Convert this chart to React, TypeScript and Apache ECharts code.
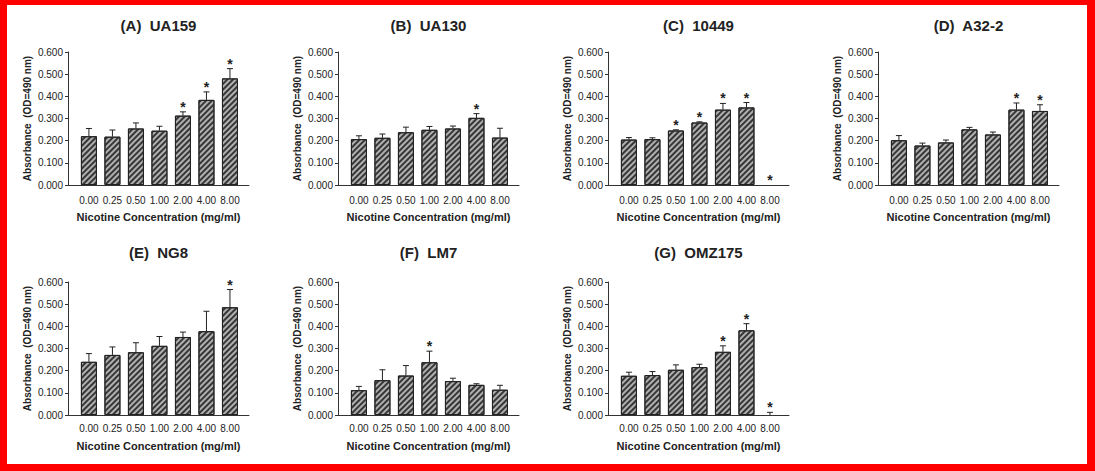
import React, { useEffect, useRef } from "react";
import * as echarts from "echarts";

// ---------- data ----------
const categories = ["0.00", "0.25", "0.50", "1.00", "2.00", "4.00", "8.00"];
const panelTitles = ["(A)  UA159", "(B)  UA130", "(C)  10449", "(D)  A32-2", "(E)  NG8", "(F)  LM7", "(G)  OMZ175"];
const yAxisTitle = "Absorbance  (OD=490 nm)";
const xAxisTitle = "Nicotine Concentration (mg/ml)";

const meansA = [0.220, 0.218, 0.255, 0.245, 0.313, 0.384, 0.481];
const errsA = [0.035, 0.030, 0.025, 0.020, 0.017, 0.036, 0.044];
const starsA = [0, 0, 0, 0, 1, 1, 1];

const meansB = [0.207, 0.213, 0.238, 0.249, 0.255, 0.303, 0.214];
const errsB = [0.015, 0.017, 0.023, 0.015, 0.011, 0.019, 0.042];
const starsB = [0, 0, 0, 0, 0, 1, 0];

const meansC = [0.205, 0.207, 0.246, 0.282, 0.340, 0.350, 0];
const errsC = [0.009, 0.006, 0.003, 0.003, 0.028, 0.022, 0];
const starsC = [0, 0, 1, 1, 1, 1, 1];

const meansD = [0.202, 0.178, 0.192, 0.251, 0.228, 0.340, 0.334];
const errsD = [0.021, 0.011, 0.011, 0.009, 0.011, 0.030, 0.028];
const starsD = [0, 0, 0, 0, 0, 1, 1];

const meansE = [0.240, 0.271, 0.283, 0.312, 0.352, 0.378, 0.486];
const errsE = [0.037, 0.036, 0.043, 0.042, 0.022, 0.090, 0.080];
const starsE = [0, 0, 0, 0, 0, 0, 1];

const meansF = [0.112, 0.157, 0.178, 0.238, 0.153, 0.136, 0.114];
const errsF = [0.017, 0.047, 0.045, 0.050, 0.013, 0.005, 0.020];
const starsF = [0, 0, 0, 1, 0, 0, 0];

const meansG = [0.177, 0.180, 0.204, 0.216, 0.285, 0.382, 0];
const errsG = [0.016, 0.016, 0.022, 0.013, 0.027, 0.030, 0.012];
const starsG = [0, 0, 0, 0, 1, 1, 1];

const panelMeans = [meansA, meansB, meansC, meansD, meansE, meansF, meansG];
const panelErrs = [errsA, errsB, errsC, errsD, errsE, errsF, errsG];
const panelStars = [starsA, starsB, starsC, starsD, starsE, starsF, starsG];

// ---------- layout ----------
const colLefts = [68, 338, 608, 878];
const rowTops = [52, 282];
const plotW = 181;
const plotH = 133;
const TXT = "#222";
const LABEL_FONT = "'Liberation Sans Narrow', 'Arial Narrow', 'Liberation Sans', Arial, sans-serif";
const BOLD_FONT = "'Liberation Sans', Arial, sans-serif";

export default function App() {
  const ref = useRef<HTMLDivElement>(null);
  useEffect(() => {
    if (!ref.current) return;
    const chart = echarts.init(ref.current, undefined, { renderer: "svg" });
    const grids: any[] = [];
    const xAxes: any[] = [];
    const yAxes: any[] = [];
    const series: any[] = [];
    const graphics: any[] = [];
    panelTitles.forEach((title, p) => {
      const row = p < 4 ? 0 : 1;
      const col = p < 4 ? p : p - 4;
      const left = colLefts[col];
      const top = rowTops[row];
      grids.push({ left, top, width: plotW, height: plotH, containLabel: false });
      xAxes.push({
        type: "value",
        gridIndex: p,
        min: -0.89,
        max: 6.81,
        splitLine: { show: false },
        axisTick: { show: false },
        axisLine: { show: true, onZero: false, lineStyle: { color: "#333", width: 1 } },
        axisLabel: {
          customValues: [0, 1, 2, 3, 4, 5, 6],
          formatter: (v: number) => categories[Math.round(v)] ?? "",
          color: TXT,
          fontSize: 10,
          fontFamily: LABEL_FONT,
          margin: row === 0 ? 10 : 8,
        },
        name: xAxisTitle,
        nameLocation: "middle",
        nameGap: row === 0 ? 26 : 25,
        nameTextStyle: { fontSize: 11, fontWeight: "bold", color: TXT, fontFamily: BOLD_FONT },
      });
      yAxes.push({
        type: "value",
        gridIndex: p,
        min: 0,
        max: 0.6,
        interval: 0.1,
        splitLine: { show: false },
        axisLine: { show: true, onZero: false, lineStyle: { color: "#333", width: 1 } },
        axisTick: { show: true, length: 3, lineStyle: { color: "#333" } },
        axisLabel: {
          formatter: (v: number) => v.toFixed(3),
          color: TXT,
          fontSize: 10,
          fontFamily: LABEL_FONT,
          margin: 5,
        },
        name: yAxisTitle,
        nameLocation: "middle",
        nameGap: 36,
        nameTextStyle: { fontSize: 10, fontWeight: "bold", color: TXT, fontFamily: BOLD_FONT },
      });
      const means = panelMeans[p];
      const errs = panelErrs[p];
      const stars = panelStars[p];
      series.push({
        type: "bar",
        xAxisIndex: p,
        yAxisIndex: p,
        barWidth: 16,
        data: means.map((m, i) => [i, m > 0 ? m : "-"]),
        itemStyle: {
          color: "#b0b0b0",
          borderColor: "#222",
          borderWidth: 1,
          decal: {
            symbol: "rect",
            symbolSize: 1,
            color: "#363636",
            dashArrayX: [1, 0],
            dashArrayY: [1.6, 1.6],
            rotation: -Math.PI / 4,
          },
        },
        silent: true,
      });
      series.push({
        type: "custom",
        xAxisIndex: p,
        yAxisIndex: p,
        silent: true,
        data: means.map((m, i) => [i, m, errs[i], stars[i]]),
        renderItem: (params: any, api: any) => {
          const i = api.value(0);
          const v = api.value(1);
          const e = api.value(2);
          const s = api.value(3);
          const base = api.coord([i, v]);
          const tip = api.coord([i, v + e]);
          const children: any[] = [];
          if (e > 0) {
            children.push({
              type: "line",
              shape: { x1: base[0], y1: base[1], x2: tip[0], y2: tip[1] },
              style: { stroke: "#222", lineWidth: 1 },
            });
            children.push({
              type: "line",
              shape: { x1: tip[0] - 3, y1: tip[1], x2: tip[0] + 3, y2: tip[1] },
              style: { stroke: "#222", lineWidth: 1 },
            });
          }
          if (s) {
            children.push({
              type: "text",
              x: tip[0],
              y: tip[1] - 5,
              style: {
                text: "*",
                fontSize: 14,
                fontWeight: "bold",
                fontFamily: BOLD_FONT,
                fill: TXT,
                align: "center",
                verticalAlign: "middle",
              },
            });
          }
          return { type: "group", children };
        },
      });
      graphics.push({
        type: "text",
        x: left + plotW / 2,
        y: row === 0 ? 25 : 252,
        style: {
          text: title,
          fontSize: 15,
          fontWeight: "bold",
          fontFamily: BOLD_FONT,
          fill: TXT,
          align: "center",
          verticalAlign: "middle",
        },
      });
    });
    chart.setOption({
      animation: false,
      backgroundColor: "transparent",
      grid: grids,
      xAxis: xAxes,
      yAxis: yAxes,
      series,
      graphic: graphics,
    });
    return () => chart.dispose();
  }, []);
  return (
    <div style={{ position: "fixed", left: 0, top: 0, width: 1095, height: 471, background: "#fff" }}>
      <div
        style={{
          position: "absolute",
          left: 0,
          top: 0,
          width: 1095,
          height: 471,
          boxSizing: "border-box",
          borderStyle: "solid",
          borderColor: "#ff0000",
          borderWidth: "5px 8px 7px 7px",
        }}
      />
      <div ref={ref} style={{ position: "absolute", left: 0, top: 0, width: 1095, height: 471 }} />
    </div>
  );
}
